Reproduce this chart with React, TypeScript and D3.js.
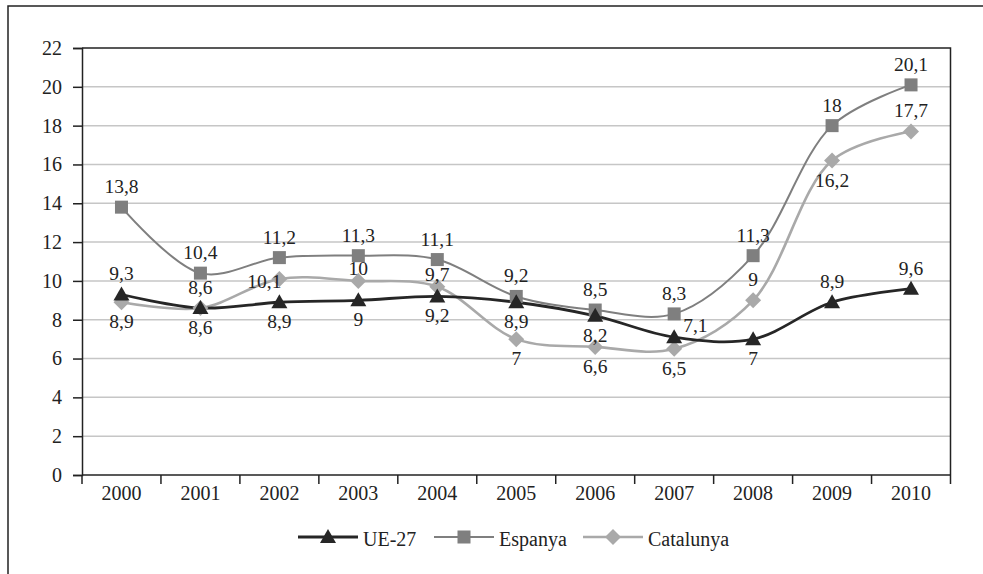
import { useEffect, useRef } from 'react'
import * as d3 from 'd3'

const YEARS = ['2000', '2001', '2002', '2003', '2004', '2005', '2006', '2007', '2008', '2009', '2010']
const UE27 = [9.3, 8.6, 8.9, 9, 9.2, 8.9, 8.2, 7.1, 7, 8.9, 9.6]
const ESPANYA = [13.8, 10.4, 11.2, 11.3, 11.1, 9.2, 8.5, 8.3, 11.3, 18, 20.1]
const CATALUNYA = [8.9, 8.6, 10.1, 10, 9.7, 7, 6.6, 6.5, 9, 16.2, 17.7]
const Y_TICKS = [0, 2, 4, 6, 8, 10, 12, 14, 16, 18, 20, 22]

// where each data label sits: a = above, A = just above, b = below, l = left, r = right
const POS_UE = ['a', 'b', 'b', 'b', 'b', 'b', 'b', 'r', 'b', 'a', 'a']
const POS_ES = ['a', 'a', 'a', 'a', 'a', 'a', 'a', 'a', 'a', 'a', 'a']
const POS_CA = ['b', 'a', 'l', 'A', 'A', 'b', 'b', 'b', 'a', 'b', 'a']

const FONT = '"Liberation Serif", "Times New Roman", serif'

type Series = { name: string; values: number[]; pos: string[]; color: string; width: number; marker: 'tri' | 'sq' | 'dia' }

const SERIES: Series[] = [
  { name: 'UE-27', values: UE27, pos: POS_UE, color: '#262626', width: 2.8, marker: 'tri' },
  { name: 'Espanya', values: ESPANYA, pos: POS_ES, color: '#7f7f7f', width: 2, marker: 'sq' },
  { name: 'Catalunya', values: CATALUNYA, pos: POS_CA, color: '#a9a9a9', width: 2.6, marker: 'dia' },
]

function drawMarker(g: d3.Selection<SVGGElement, unknown, null, undefined>, kind: string, x: number, y: number, color: string) {
  if (kind === 'tri') {
    g.append('path').attr('d', `M${x},${y - 8}L${x + 8},${y + 6}L${x - 8},${y + 6}Z`).attr('fill', color)
  } else if (kind === 'sq') {
    g.append('rect').attr('x', x - 6.5).attr('y', y - 6.5).attr('width', 13).attr('height', 13).attr('fill', color)
  } else {
    g.append('path').attr('d', `M${x},${y - 8}L${x + 8},${y}L${x},${y + 8}L${x - 8},${y}Z`).attr('fill', color)
  }
}

export default function App() {
  const svgRef = useRef<SVGSVGElement>(null)

  useEffect(() => {
    if (!svgRef.current) return
    const svg = d3.select(svgRef.current)
    svg.selectAll('*').remove()

    const L = 82, R = 950.5, T = 48, B = 475

    // outer frame
    svg.append('rect').attr('x', 8).attr('y', 6).attr('width', 990).attr('height', 620)
      .attr('fill', 'none').attr('stroke', '#222').attr('stroke-width', 1.5)

    const x = d3.scaleBand().domain(YEARS).range([L, R])
    const y = d3.scaleLinear().domain([0, 22]).range([B, T])
    const cxOf = (i: number) => x(YEARS[i])! + x.bandwidth() / 2

    // gridlines
    svg.append('g').selectAll('line').data(Y_TICKS.filter(t => t > 0 && t < 22)).join('line')
      .attr('x1', L).attr('x2', R).attr('y1', d => y(d)).attr('y2', d => y(d))
      .attr('stroke', '#c6c6c6').attr('stroke-width', 1.5)

    // plot frame top/right
    svg.append('path').attr('d', `M${L},${T}H${R}V${B}`).attr('fill', 'none').attr('stroke', '#222').attr('stroke-width', 1.5)

    // y axis
    const yAxis = d3.axisLeft(y).tickValues(Y_TICKS).tickSize(9).tickPadding(11).tickFormat(d => String(d))
    const ya = svg.append('g').attr('transform', `translate(${L},0)`).call(yAxis)
    ya.select('.domain').attr('stroke', '#222').attr('stroke-width', 1.5)
    ya.selectAll('line').attr('stroke', '#222').attr('stroke-width', 1.5)
    ya.selectAll('text').attr('font-size', 20).attr('fill', '#222').style('font-family', FONT)

    // x axis
    const xa = svg.append('g').attr('transform', `translate(0,${B})`)
    xa.append('line').attr('x1', L).attr('x2', R).attr('stroke', '#222').attr('stroke-width', 1.5)
    const bounds = [...YEARS.map(d => x(d)!), R]
    xa.selectAll('line.tk').data(bounds).join('line').attr('class', 'tk')
      .attr('x1', d => d).attr('x2', d => d).attr('y1', 0).attr('y2', 9)
      .attr('stroke', '#222').attr('stroke-width', 1.5)
    xa.selectAll('text').data(YEARS).join('text')
      .attr('x', d => x(d)! + x.bandwidth() / 2).attr('y', 25)
      .attr('text-anchor', 'middle').attr('font-size', 20).attr('fill', '#222').style('font-family', FONT)
      .text(d => d)

    const line = d3.line<number>()
      .x((_, i) => cxOf(i))
      .y(d => y(d))
      .curve(d3.curveCatmullRom.alpha(0.5))

    const order = [SERIES[2], SERIES[1], SERIES[0]]
    order.forEach(s => {
      svg.append('path').datum(s.values).attr('d', line).attr('fill', 'none')
        .attr('stroke', s.color).attr('stroke-width', s.width)
    })
    order.forEach(s => {
      const g = svg.append('g')
      s.values.forEach((v, i) => drawMarker(g, s.marker, cxOf(i), y(v), s.color))
    })

    // data labels
    SERIES.forEach(s => {
      s.values.forEach((v, i) => {
        const cx = cxOf(i)
        const cy = y(v)
        let tx = cx, ty = cy, anchor = 'middle'
        const p = s.pos[i]
        if (p === 'a') ty = cy - 14
        else if (p === 'A') ty = cy - 6
        else if (p === 'b') ty = cy + 26
        else if (p === 'l') { tx = cx + 2; ty = cy + 9; anchor = 'end' }
        else { tx = cx + 9; ty = cy - 5; anchor = 'start' }
        svg.append('text').attr('x', tx).attr('y', ty).attr('text-anchor', anchor)
          .attr('font-size', 19.5).attr('fill', '#222').style('font-family', FONT)
          .text(String(v).replace('.', ','))
      })
    })

    // legend
    const legendX = [298, 434, 583]
    SERIES.forEach((s, i) => {
      const lx = legendX[i], ly = 537
      const g = svg.append('g')
      g.append('line').attr('x1', lx).attr('x2', lx + 60).attr('y1', ly).attr('y2', ly)
        .attr('stroke', s.color).attr('stroke-width', s.width)
      drawMarker(g, s.marker, lx + 30, ly, s.color)
      g.append('text').attr('x', lx + 65).attr('y', ly + 9)
        .attr('font-size', 20).attr('fill', '#222').style('font-family', FONT).text(s.name)
    })
  }, [])

  return (
    <svg ref={svgRef} width={983} height={574}
      style={{ position: 'absolute', left: 0, top: 0, background: '#fff' }} />
  )
}
